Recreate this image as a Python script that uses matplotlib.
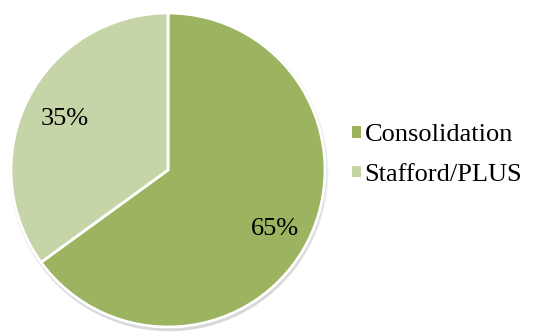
import matplotlib.pyplot as plt
from matplotlib.patches import Circle

# loan type shares
loan_types = ['Consolidation', 'Stafford/PLUS']
shares = [65, 35]
colors = ['#9CB35F', '#C5D5A8']

fig = plt.figure(figsize=(5.4, 3.33), dpi=100)
ax = fig.add_axes([0, 0, 1, 1])

cx, cy, r = 168, 163, 157

# soft drop shadow under the pie
for i, a in enumerate([0.05, 0.05, 0.05, 0.06]):
    ax.add_patch(Circle((cx + 1, cy - 2 - i * 0.6), r + 2.5 - i * 0.8,
                        color='#404040', alpha=a, lw=0, zorder=0))

wedges, _ = ax.pie(shares, colors=colors, startangle=90, counterclock=False,
                   center=(cx, cy), radius=r,
                   wedgeprops=dict(edgecolor='white', linewidth=2),
                   frame=True)
ax.set_xlim(0, 540)
ax.set_ylim(0, 333)
ax.set_aspect('auto')
ax.axis('off')

font = dict(family='Liberation Serif', size=19)
ax.text(275, 333 - 229, f'{shares[0]}%', ha='center', va='center', **font)
ax.text(65, 333 - 119, f'{shares[1]}%', ha='center', va='center', **font)

leg = ax.legend(wedges, loan_types, loc='center left', bbox_to_anchor=(339 / 540, 1 - 155 / 333),
                frameon=False, prop=font, handlelength=0.32, handleheight=0.32,
                handletextpad=0.15, labelspacing=0.68, borderpad=0)
for h in leg.legend_handles:
    h.set_edgecolor('none')

fig.savefig('out.png', dpi=100)
